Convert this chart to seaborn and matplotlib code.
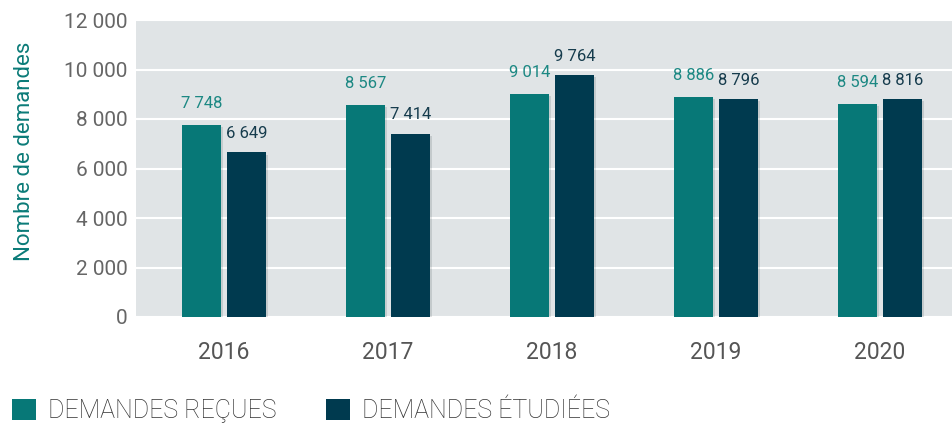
import pandas as pd
import seaborn as sns
import matplotlib.pyplot as plt
import matplotlib.ticker as mticker
import matplotlib.patheffects as pe

years = ['2016', '2017', '2018', '2019', '2020']
recues = [7748, 8567, 9014, 8886, 8594]
etudiees = [6649, 7414, 9764, 8796, 8816]
series = ['DEMANDES REÇUES', 'DEMANDES ÉTUDIÉES']
colors = ['#077877', '#003a4f']
label_colors = ['#1c8883', '#163c4d']

df = pd.DataFrame({
    'annee': years * 2,
    'valeur': recues + etudiees,
    'serie': [series[0]] * len(years) + [series[1]] * len(years),
})

sns.set_style('white')
plt.rcParams['font.family'] = ['Roboto', 'DejaVu Sans']

fig = plt.figure(figsize=(9.52, 4.24), dpi=100)
ax = fig.add_axes([136 / 952, 1 - 317 / 424, 1 - 136 / 952, 297 / 424])
ax.set_facecolor('#e0e4e6')

sns.barplot(data=df, x='annee', y='valeur', hue='serie', palette=colors,
            width=0.549, gap=0.133, saturation=1, linewidth=0, edgecolor='none',
            ax=ax, zorder=3)

ax.set_ylim(0, 12000)
ax.set_xlim(-0.537, 4.44)
ax.set_yticks(range(0, 12001, 2000))
ax.yaxis.set_major_formatter(mticker.FuncFormatter(lambda v, p: f'{int(v):,}'.replace(',', ' ')))
ax.grid(axis='y', color='white', linewidth=1.5, zorder=0)
ax.set_axisbelow(True)
for s in ax.spines.values():
    s.set_visible(False)
ax.tick_params(axis='y', length=0, pad=6, labelsize=15, labelcolor='#666666')
ax.tick_params(axis='x', length=0, pad=17, labelsize=16.5, labelcolor='#555555')
ax.set_xlabel('')
ax.set_ylabel('Nombre de demandes', color='#0b7b78', fontsize=16)
ax.yaxis.set_label_coords(-0.124, 0.559)

pads = [10, 8]
for i, cont in enumerate(ax.containers):
    for bar in cont:
        bar.set_path_effects([pe.SimplePatchShadow(offset=(1.5, -1.5), alpha=0.12), pe.Normal()])
    ax.bar_label(cont, labels=[f'{int(v):,}'.replace(',', ' ') for v in cont.datavalues],
                 padding=pads[i], fontsize=12, color=label_colors[i])

handles, labels = ax.get_legend_handles_labels()
ax.get_legend().remove()
fig.legend(handles, labels, loc='lower left', bbox_to_anchor=(0.002, -0.022), ncol=2,
           frameon=False, handlelength=0.96, handleheight=0.92, handletextpad=0.48,
           columnspacing=2.0, borderaxespad=0, prop={'size': 18, 'weight': 'light'},
           labelcolor='#333333')

fig.savefig('out.png', dpi=100)
